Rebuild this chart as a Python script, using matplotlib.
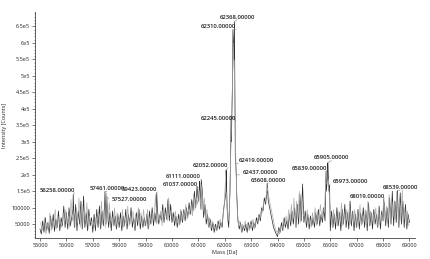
import numpy as np
import matplotlib
matplotlib.use("Agg")
import matplotlib.pyplot as plt
from matplotlib.ticker import MultipleLocator, FixedLocator

# ---------------- data ----------------
grid_start = 55000
grid_step = 50
# dark trace: intensities (thousands of counts), one value every 50 Da from 55000
seg_55 = [35, 20, 60, 25, 70, 30, 55, 22, 75, 35, 80, 28, 65, 40, 90, 30, 70, 45, 105, 40]
seg_56 = [85, 35, 100, 45, 70, 95, 40, 110, 30, 90, 50, 120, 35, 135, 40, 85, 30, 95, 45, 70]
seg_57 = [25, 80, 30, 95, 40, 105, 35, 90, 45, 110, 50, 100, 40, 85, 30, 90, 45, 75, 35, 80]
seg_58 = [40, 85, 30, 75, 45, 95, 35, 80, 50, 100, 40, 70, 30, 85, 45, 95, 35, 75, 40, 70]
seg_59 = [45, 80, 35, 90, 50, 100, 45, 85, 55, 95, 50, 80, 60, 110, 55, 100, 65, 125, 60, 110]
seg_60 = [55, 85, 45, 75, 40, 80, 50, 90, 55, 95, 60, 100, 70, 115, 80, 125, 90, 150, 100, 165]
seg_61 = [120, 180, 95, 150, 70, 110, 50, 80, 40, 65, 30, 55, 25, 50, 30, 60, 35, 55, 40, 90]
seg_62 = [120, 150, 80, 40, 150, 300, 500, 550, 260, 150, 60, 35, 55, 25, 45, 30, 50, 25, 55, 35]
seg_63 = [60, 30, 55, 40, 70, 50, 80, 60, 100, 90, 130, 110, 150, 120, 100, 80, 60, 40, 30, 20]
seg_64 = [12, 40, 25, 55, 30, 70, 40, 60, 35, 80, 45, 90, 50, 100, 40, 110, 50, 140, 60, 172]
seg_65 = [55, 90, 40, 80, 35, 75, 45, 70, 40, 85, 50, 95, 45, 80, 55, 100, 60, 150, 200, 150]
seg_66 = [30, 90, 40, 80, 35, 100, 45, 85, 30, 95, 50, 110, 40, 85, 35, 120, 45, 90, 30, 80]
seg_67 = [40, 95, 35, 85, 50, 100, 40, 90, 30, 115, 45, 85, 35, 95, 50, 80, 40, 105, 35, 90]
seg_68 = [60, 110, 45, 100, 40, 130, 50, 150, 45, 120, 55, 140, 40, 145, 50, 120, 40, 110, 35, 80]
seg_69 = [55]

# light trace: intensities (thousands), one value every 50 Da from 55025
lt_55 = [55, 30, 45, 70, 20, 50, 40, 85, 30, 60, 45, 95, 35, 75, 50, 60, 40, 85, 55, 95]
lt_56 = [50, 75, 40, 125, 60, 80, 45, 100, 55, 130, 40, 105, 50, 90, 60, 115, 35, 75, 55, 60]
lt_57 = [55, 40, 70, 60, 85, 45, 120, 50, 95, 40, 145, 55, 115, 60, 70, 45, 100, 40, 85, 55]
lt_58 = [70, 45, 95, 40, 60, 50, 105, 45, 75, 60, 90, 40, 80, 55, 100, 45, 85, 50, 95, 45]
lt_59 = [60, 95, 40, 70, 55, 85, 65, 140, 50, 75, 60, 90, 45, 100, 70, 85, 60, 130, 75, 95]
lt_60 = [70, 60, 90, 50, 65, 45, 95, 60, 85, 70, 110, 65, 95, 80, 105, 75, 140, 95, 130, 110]
lt_61 = [150, 110, 170, 90, 130, 60, 95, 45, 70, 35, 60, 40, 45, 30, 55, 40, 65, 45, 70, 100]
lt_62 = [180, 110, 60, 90, 250, 420, 600, 480, 220, 90, 45, 60, 30, 50, 35, 60, 40, 55, 30, 50]
lt_63 = [45, 65, 35, 60, 55, 75, 65, 90, 85, 120, 115, 140, 160, 130, 110, 90, 70, 50, 35, 25]
lt_64 = [30, 20, 45, 35, 65, 45, 75, 50, 95, 55, 110, 60, 130, 45, 120, 65, 150, 55, 130, 75]
lt_65 = [80, 50, 95, 45, 70, 40, 85, 55, 100, 45, 90, 60, 110, 70, 95, 85, 180, 170, 185, 120]
lt_66 = [75, 40, 95, 55, 75, 45, 90, 60, 115, 45, 80, 55, 95, 60, 105, 50, 85, 55, 95, 45]
lt_67 = [85, 50, 110, 45, 75, 55, 95, 45, 120, 50, 90, 60, 80, 55, 100, 45, 95, 50, 80, 60]
lt_68 = [130, 60, 105, 55, 140, 60, 125, 70, 110, 65, 150, 55, 130, 60, 155, 55, 100, 50, 90, 45]

# labelled peaks
peak_mass = [56258, 57461, 57527, 59423, 61037, 61111, 62052, 62245, 62310, 62368,
             62419, 62437, 63608, 65839, 65905, 65973, 68019, 68539]
peak_int = [140, 149, 133, 145, 160, 184, 214, 380, 640, 665,
            233, 199, 174, 211, 236, 169, 126, 151]  # thousands of counts

# label placement (style): alignment, x offset, y offset in points
label_ha = ['right', 'center', 'left', 'right', 'right', 'right', 'right', 'right', 'right', 'center',
            'left', 'left', 'center', 'right', 'center', 'left', 'right', 'center']
label_dx = [1.2, 1.5, 3.5, 0.5, -0.7, -0.7, 1.5, 3.5, 2.5, 2.0,
            1.8, 4.5, 1.0, 0.7, 2.8, 2.5, 0.7, 2.2]
label_dy = [3.2, 2.0, -1.6, 2.6, 2.2, 2.2, 3.6, -2.0, 2.2, 3.1,
            2.2, 2.2, 2.0, 2.2, 3.6, 2.2, 2.2, 2.4]

# ---------------- build spectrum ----------------
base = seg_55 + seg_56 + seg_57 + seg_58 + seg_59 + seg_60 + seg_61 + seg_62 + \
       seg_63 + seg_64 + seg_65 + seg_66 + seg_67 + seg_68 + seg_69
base_mass = grid_start + grid_step * np.arange(len(base))
mass = np.concatenate([base_mass, np.array(peak_mass)])
inten = np.concatenate([np.array(base), np.array(peak_int)]) * 1000.0
order = np.argsort(mass, kind="stable")
mass = mass[order]
inten = inten[order]

light = lt_55 + lt_56 + lt_57 + lt_58 + lt_59 + lt_60 + lt_61 + lt_62 + \
        lt_63 + lt_64 + lt_65 + lt_66 + lt_67 + lt_68
light_mass = grid_start + grid_step // 2 + grid_step * np.arange(len(light))
light_int = np.array(light) * 1000.0

# ---------------- figure ----------------
plt.rcParams['font.family'] = ['Open Sans', 'DejaVu Sans']
fig = plt.figure(figsize=(4.30, 2.59), dpi=100)
ax = fig.add_axes([35 / 430, 1 - 238 / 259, 380 / 430, 226 / 259])

ax.plot(mass, inten, color='#2a2a2a', lw=0.5, zorder=2)
ax.plot(light_mass, light_int, color='#a8a8a8', lw=0.45, zorder=3)

ax.set_xlim(54810, 69210)
ax.set_ylim(8000, 694000)

for s in ['top', 'right']:
    ax.spines[s].set_visible(False)
for s in ['left', 'bottom']:
    ax.spines[s].set_linewidth(0.6)
    ax.spines[s].set_color('#444444')

xt = list(range(55000, 69001, 1000))
ax.xaxis.set_major_locator(FixedLocator(xt))
ax.set_xticklabels([str(v) for v in xt])
yt = list(range(50000, 650001, 50000))
ylab = ['50000', '100000', '1.5e5', '2e5', '2.5e5', '3e5', '3.5e5', '4e5',
        '4.5e5', '5e5', '5.5e5', '6e5', '6.5e5']
ax.yaxis.set_major_locator(FixedLocator(yt))
ax.set_yticklabels(ylab)
ax.yaxis.set_minor_locator(MultipleLocator(10000))

ax.tick_params(axis='both', which='major', labelsize=4, length=2, width=0.5,
               pad=1.5, colors='#444444', labelcolor='#222222')
ax.tick_params(axis='y', which='minor', length=1, width=0.4, colors='#444444')

ax.set_xlabel('Mass [Da]', fontsize=4, color='#222222', labelpad=1)
ax.set_ylabel('Intensity [Counts]', fontsize=4, color='#222222', labelpad=3)

relpos = {'right': (1.0, 0.0), 'left': (0.0, 0.0), 'center': (0.5, 0.0)}
for m, v, ha, dx, dy in zip(peak_mass, peak_int, label_ha, label_dx, label_dy):
    ax.annotate(f"{m:.5f}", xy=(m, v * 1000.0), xytext=(dx, dy),
                textcoords='offset points', ha=ha, va='center',
                fontsize=4.2, fontweight='semibold', color='#1a1a1a',
                arrowprops=dict(arrowstyle='-', color='#888888', lw=0.4,
                                shrinkA=0, shrinkB=0, relpos=relpos[ha]), zorder=5)

fig.savefig('out.png', dpi=100)
